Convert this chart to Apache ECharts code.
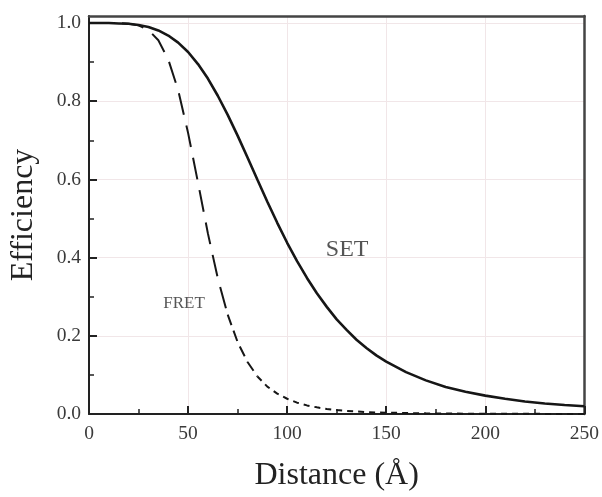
<!DOCTYPE html>
<html><head><meta charset="utf-8">
<script src="https://cdn.jsdelivr.net/npm/echarts@6/dist/echarts.min.js"></script>
<style>html,body{margin:0;padding:0;background:#fff}#c{width:602px;height:497px}</style>
</head><body><div id="c"></div><script>
const distance = [0,5,10,15,20,25,30,35,40,45,50,55,60,65,70,75,80,85,90,95,100,105,110,115,120,125,130,135,140,145,150,160,170,180,190,200,210,220,230,240,250];
const setEff = [1.000,1.000,1.000,0.999,0.998,0.995,0.990,0.981,0.968,0.950,0.926,0.895,0.858,0.814,0.765,0.712,0.656,0.599,0.543,0.489,0.438,0.391,0.348,0.309,0.274,0.242,0.215,0.190,0.169,0.150,0.134,0.107,0.086,0.069,0.057,0.047,0.039,0.032,0.027,0.023,0.020];
const fretEff = [1.000,1.000,1.000,1.000,0.998,0.994,0.982,0.956,0.907,0.828,0.719,0.592,0.462,0.347,0.254,0.184,0.133,0.096,0.070,0.052,0.039,0.029,0.022,0.017,0.013,0.010,0.008,0.0066,0.005,0.004,0.0035,0.0024,0.0017,0.0012,0.0009,0.0006,0.0005,0.0004,0.0003,0.0002,0.0002];
const xTickValues = [0,50,100,150,200,250];
const yTickValues = [0,0.2,0.4,0.6,0.8,1.0];
const yMinorTickValues = [0.1,0.3,0.5,0.7,0.9];
const curveLabels = [{name:'SET', x:130.3, y:0.421}, {name:'FRET', x:48, y:0.282}];
const xTitle = 'Distance (Å)';
const yTitle = 'Efficiency';

const serif = 'Liberation Serif, Times New Roman, serif';
const pairs = (arr, lo, hi) => distance.map((d,i)=>[d,arr[i]]).filter(p=>p[0]>=lo && p[0]<=hi);
const chart = echarts.init(document.getElementById('c'), null, {renderer:'canvas'});
const yMax = 1.018;
const lineSeries = (data, width, dash) => ({
  type:'line', data, showSymbol:false, symbol:'none', smooth:false, silent:true,
  xAxisIndex:0, yAxisIndex:0,
  lineStyle:{color:'#161616', width, type:dash},
  z: 3
});
chart.setOption({
  animation:false,
  backgroundColor:'#fff',
  grid:{left:88, right:17, top:16, bottom:79, containLabel:false},
  xAxis:[
    {type:'value', min:0, max:250, interval:50, position:'bottom',
     axisLine:{show:true, onZero:false, lineStyle:{color:'#222', width:2}},
     axisTick:{show:true, inside:true, length:8, lineStyle:{color:'#222', width:2}},
     minorTick:{show:true, splitNumber:2, length:5, lineStyle:{color:'#222', width:1.5}},
     axisLabel:{fontFamily:serif, fontSize:19.5, color:'#3a3a3a', margin:10, customValues:xTickValues},
     splitLine:{show:true, lineStyle:{color:'#f1e6e8', width:1}},
     name:xTitle, nameLocation:'middle', nameGap:46,
     nameTextStyle:{fontFamily:serif, fontSize:32, color:'#222'}},
    {type:'value', min:0, max:250, position:'top',
     axisLine:{show:true, onZero:false, lineStyle:{color:'#444', width:2.5}},
     axisTick:{show:false}, axisLabel:{show:false}, splitLine:{show:false}}
  ],
  yAxis:[
    {type:'value', min:0, max:yMax, interval:0.2, position:'left',
     axisLine:{show:true, onZero:false, lineStyle:{color:'#222', width:2}},
     axisTick:{show:true, inside:true, length:8, customValues:yTickValues, lineStyle:{color:'#222', width:2}},
     axisLabel:{fontFamily:serif, fontSize:19.5, color:'#3a3a3a', margin:8, customValues:yTickValues, formatter:v=>Number(v).toFixed(1)},
     splitLine:{show:true, lineStyle:{color:'#f1e6e8', width:1}},
     name:yTitle, nameLocation:'middle', nameGap:49,
     nameTextStyle:{fontFamily:serif, fontSize:32, color:'#222'}},
    {type:'value', min:0, max:yMax, position:'left',
     axisLine:{show:false},
     axisTick:{show:true, inside:true, length:5, customValues:yMinorTickValues, lineStyle:{color:'#222', width:1.5}},
     axisLabel:{show:false}, splitLine:{show:false}},
    {type:'value', min:0, max:yMax, position:'right',
     axisLine:{show:true, onZero:false, lineStyle:{color:'#444', width:2.5}},
     axisTick:{show:false}, axisLabel:{show:false}, splitLine:{show:false}}
  ],
  series:[
    lineSeries(pairs(fretEff,0,70), 2, [22,11]),
    lineSeries(pairs(fretEff,70,85), 2, [11,6]),
    lineSeries(pairs(fretEff,85,250), 2, [6,5]),
    lineSeries(pairs(setEff,0,250), 2.6, 'solid'),
    {type:'scatter', silent:true, symbolSize:0, itemStyle:{color:'transparent'},
     data: curveLabels.map(l=>({value:[l.x,l.y], name:l.name,
       label:{show:true, position:'inside', formatter:l.name, fontFamily:serif,
              fontSize: l.name==='SET'?24:17, color:'#2a2a2a'}})),
     z:5}
  ]
});
</script></body></html>
